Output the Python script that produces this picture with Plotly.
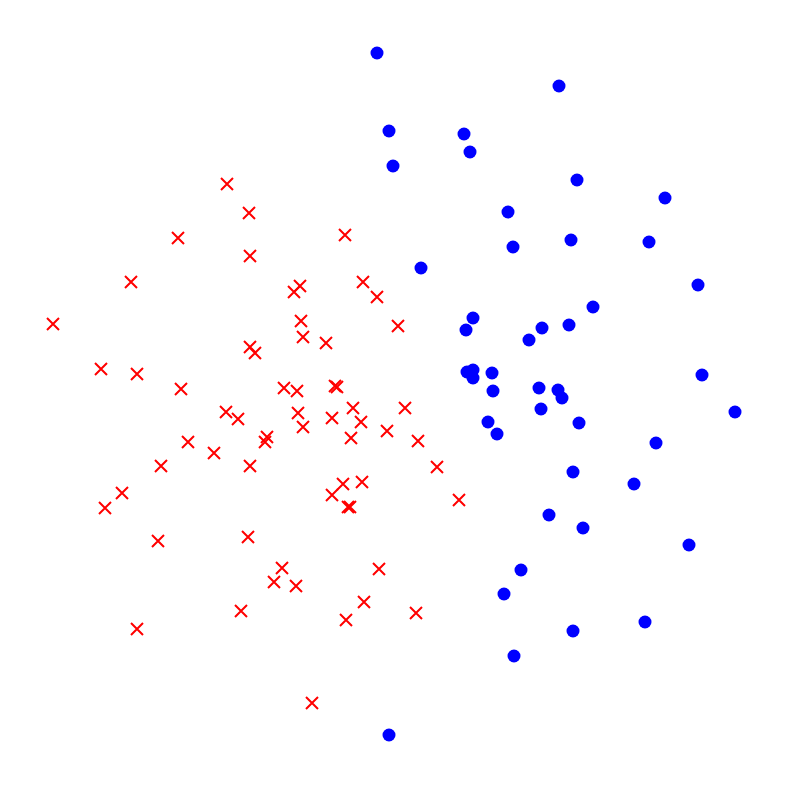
import plotly.graph_objects as go

# Class A (blue circles)
blue_x = [593, 473, 466, 542, 569, 529, 467, 473, 473, 492, 493, 539, 558, 562, 541, 488, 497, 579,
          377, 559, 389, 464, 470, 393, 577, 665, 508, 513, 571, 649, 421, 698, 702, 735, 656, 573,
          634, 549, 583, 689, 521, 504, 573, 645, 514, 389]
blue_y = [307, 318, 330, 328, 325, 340, 372, 370, 378, 373, 391, 388, 390, 398, 409, 422, 434, 423,
          53, 86, 131, 134, 152, 166, 180, 198, 212, 247, 240, 242, 268, 285, 375, 412, 443, 472,
          484, 515, 528, 545, 570, 594, 631, 622, 656, 735]

# Class B (red crosses)
red_x = [300, 294, 363, 377, 301, 398, 303, 326, 250, 255, 284, 297, 335, 337, 226, 238, 298, 332,
         353, 361, 405, 303, 387, 267, 265, 351, 418, 214, 250, 437, 343, 362, 332, 348, 350, 459,
         227, 249, 178, 345, 250, 131, 53, 101, 137, 181, 188, 161, 122, 105, 158, 248, 282, 274,
         296, 379, 364, 241, 346, 416, 137, 312]
red_y = [286, 292, 282, 297, 321, 326, 337, 343, 347, 353, 388, 391, 386, 387, 412, 419, 413, 418,
         408, 422, 408, 427, 431, 437, 442, 438, 441, 453, 466, 467, 484, 482, 495, 507, 507, 500,
         184, 213, 238, 235, 256, 282, 324, 369, 374, 389, 442, 466, 493, 508, 541, 537, 568, 582,
         586, 569, 602, 611, 620, 613, 629, 703]

fig = go.Figure()
fig.add_trace(go.Scatter(
    x=red_x, y=red_y, mode="markers",
    marker=dict(symbol="x-thin", size=12, line=dict(color="#ff0000", width=2), color="#ff0000"),
    showlegend=False, hoverinfo="skip"))
fig.add_trace(go.Scatter(
    x=blue_x, y=blue_y, mode="markers",
    marker=dict(symbol="circle", size=13, color="#0000ff", line=dict(width=0)),
    showlegend=False, hoverinfo="skip"))

fig.update_layout(
    width=781, height=781,
    margin=dict(l=0, r=0, t=0, b=0),
    paper_bgcolor="white", plot_bgcolor="white",
    xaxis=dict(range=[8, 789], visible=False, showgrid=False, zeroline=False),
    yaxis=dict(range=[789, 8], visible=False, showgrid=False, zeroline=False),
)
fig.write_html("out.html")
